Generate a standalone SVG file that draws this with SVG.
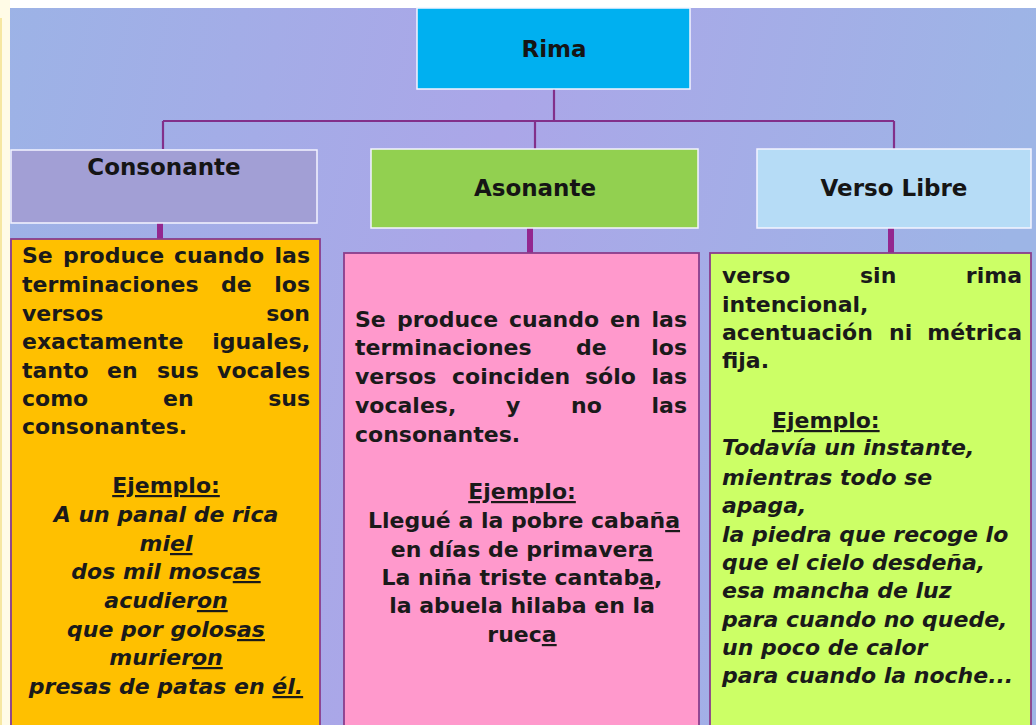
<svg xmlns="http://www.w3.org/2000/svg" width="1036" height="725" viewBox="0 0 1036 725">
<defs>
<linearGradient id="bg" x1="0" y1="0" x2="1" y2="0.15">
<stop offset="0" stop-color="#9cb3e6"/>
<stop offset="0.5" stop-color="#aba6e8"/>
<stop offset="1" stop-color="#9db5e6"/>
</linearGradient>
</defs>
<style>
.h{font-family:"DejaVu Sans","Liberation Sans",sans-serif;font-weight:bold;font-size:23px;fill:#151515;text-anchor:middle}
.t{font-family:"DejaVu Sans","Liberation Sans",sans-serif;font-weight:bold;font-size:22px;fill:#1a1a1a}
.c{text-anchor:middle}
.i{font-style:italic}
.u{text-decoration:underline}
.e{text-anchor:end}
.top{stroke:#f4f4ff;stroke-width:1.5}
.low{stroke:#8a3d8c;stroke-width:1.8}
.thin{fill:none;stroke:#82308a;stroke-width:2.2}
.stub{fill:none;stroke:#93278f;stroke-width:6;stroke-linecap:round}
</style>
<rect x="0" y="0" width="1036" height="725" fill="url(#bg)"/>
<rect x="0" y="0" width="1036" height="8" fill="#ffffff"/>
<rect x="0" y="0" width="10" height="725" fill="#fffbe6"/>
<line x1="1" y1="18" x2="1" y2="725" stroke="#f3e08a" stroke-width="1.5"/>

<g id="connectors">
<path class="thin" d="M554 89V121M163 121H894M163 121V149M535 121V149M894 121V149"/>
<path class="stub" d="M160 222V240M530 228V253M891 229V253"/>
</g>

<g id="rima">
<rect class="top" x="417" y="8" width="273" height="81" fill="#00b0f0"/>
<text class="h" x="554" y="57">Rima</text>
</g>
<g id="consonante">
<rect class="top" x="11" y="150" width="306" height="73" fill="#a29fd5"/>
<text class="h" x="164" y="175">Consonante</text>
</g>
<g id="asonante">
<rect class="top" x="371" y="149" width="327" height="79" fill="#92d050"/>
<text class="h" x="535" y="196">Asonante</text>
</g>
<g id="verso-libre">
<rect class="top" x="757" y="149" width="274" height="79" fill="#b6dcf6"/>
<text class="h" x="894" y="196">Verso Libre</text>
</g>

<g id="consonante-desc">
<rect class="low" x="11" y="239" width="309" height="495" fill="#ffc000"/>
<text class="t" y="263"><tspan x="22">Se</tspan><tspan x="63">produce</tspan><tspan x="174">cuando</tspan><tspan x="310" class="e">las</tspan></text>
<text class="t" y="292"><tspan x="22">terminaciones</tspan><tspan x="221">de</tspan><tspan x="310" class="e">los</tspan></text>
<text class="t" y="321"><tspan x="22">versos</tspan><tspan x="310" class="e">son</tspan></text>
<text class="t" y="349"><tspan x="22">exactamente</tspan><tspan x="310" class="e">iguales,</tspan></text>
<text class="t" y="378"><tspan x="22">tanto</tspan><tspan x="107">en</tspan><tspan x="157">sus</tspan><tspan x="310" class="e">vocales</tspan></text>
<text class="t" y="406"><tspan x="22">como</tspan><tspan x="163">en</tspan><tspan x="310" class="e">sus</tspan></text>
<text class="t" x="22" y="434">consonantes.</text>
<text class="t c u" x="166" y="493">Ejemplo:</text>
<text class="t c i" x="166" y="522">A un panal de rica</text>
<text class="t c i" x="166" y="551">mi<tspan class="u">el</tspan></text>
<text class="t c i" x="166" y="579">dos mil mosc<tspan class="u">as</tspan></text>
<text class="t c i" x="166" y="608">acudier<tspan class="u">on</tspan></text>
<text class="t c i" x="166" y="637">que por golos<tspan class="u">as</tspan></text>
<text class="t c i" x="166" y="665">murier<tspan class="u">on</tspan></text>
<text class="t c i" x="166" y="694">presas de patas en <tspan class="u">él.</tspan></text>
</g>

<g id="asonante-desc">
<rect class="low" x="344" y="253" width="355" height="480" fill="#ff99cc"/>
<text class="t" y="327"><tspan x="355">Se</tspan><tspan x="397">produce</tspan><tspan x="509">cuando</tspan><tspan x="610">en</tspan><tspan x="687" class="e">las</tspan></text>
<text class="t" y="355"><tspan x="355">terminaciones</tspan><tspan x="576">de</tspan><tspan x="687" class="e">los</tspan></text>
<text class="t" y="384"><tspan x="355">versos</tspan><tspan x="452">coinciden</tspan><tspan x="585">sólo</tspan><tspan x="687" class="e">las</tspan></text>
<text class="t" y="413"><tspan x="355">vocales,</tspan><tspan x="506">y</tspan><tspan x="571">no</tspan><tspan x="687" class="e">las</tspan></text>
<text class="t" x="355" y="442">consonantes.</text>
<text class="t c u" x="522" y="499">Ejemplo:</text>
<text class="t c" x="524" y="528">Llegué a la pobre cabañ<tspan class="u">a</tspan></text>
<text class="t c" x="522" y="557">en días de primaver<tspan class="u">a</tspan></text>
<text class="t c" x="522" y="585">La niña triste cantab<tspan class="u">a</tspan>,</text>
<text class="t c" x="522" y="613">la abuela hilaba en la</text>
<text class="t c" x="522" y="642">ruec<tspan class="u">a</tspan></text>
</g>

<g id="verso-libre-desc">
<rect class="low" x="710" y="253" width="321" height="480" fill="#ccff66"/>
<text class="t" y="283"><tspan x="722">verso</tspan><tspan x="860">sin</tspan><tspan x="1022" class="e">rima</tspan></text>
<text class="t" x="722" y="312">intencional,</text>
<text class="t" y="340"><tspan x="722">acentuación</tspan><tspan x="889">ni</tspan><tspan x="1022" class="e">métrica</tspan></text>
<text class="t" x="722" y="368">fija.</text>
<text class="t u" x="772" y="428">Ejemplo:</text>
<text class="t i" x="722" y="455">Todavía un instante,</text>
<text class="t i" x="722" y="485">mientras todo se</text>
<text class="t i" x="722" y="513">apaga,</text>
<text class="t i" x="722" y="542">la piedra que recoge lo</text>
<text class="t i" x="722" y="570">que el cielo desdeña,</text>
<text class="t i" x="722" y="598">esa mancha de luz</text>
<text class="t i" x="722" y="627">para cuando no quede,</text>
<text class="t i" x="722" y="655">un poco de calor</text>
<text class="t i" x="722" y="683">para cuando la noche...</text>
</g>
</svg>
